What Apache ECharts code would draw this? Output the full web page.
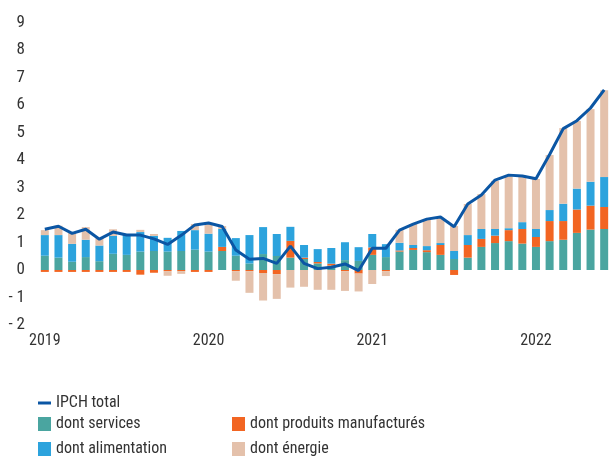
<!DOCTYPE html>
<html>
<head>
<meta charset="utf-8">
<script src="https://cdn.jsdelivr.net/npm/echarts@6/dist/echarts.min.js"></script>
<style>html,body{margin:0;padding:0;background:#fff}#c{width:611px;height:456px}</style>
</head>
<body>
<div id="c"></div>
<script>
const months = [];
for (let y = 2019; y <= 2022; y++) for (let m = 1; m <= 12; m++) { if (y === 2022 && m > 6) break; months.push(y + '-' + String(m).padStart(2, '0')); }

const ipchTotal = [1.48,1.59,1.33,1.48,1.12,1.38,1.27,1.27,1.13,0.93,1.26,1.64,1.71,1.58,0.73,0.39,0.42,0.24,0.87,0.24,0.05,0.10,0.22,-0.02,0.79,0.79,1.45,1.67,1.85,1.93,1.57,2.40,2.73,3.27,3.45,3.42,3.32,4.20,5.14,5.43,5.89,6.55];
const services = [0.52,0.45,0.30,0.47,0.32,0.59,0.55,0.67,0.69,0.67,0.69,0.74,0.67,0.69,0.52,0.24,0.58,0.51,0.45,0.40,0.24,0.16,0.36,0.33,0.55,0.47,0.67,0.73,0.65,0.55,0.40,0.45,0.84,0.98,1.05,0.96,0.84,1.05,1.10,1.35,1.47,1.49];
const manufactures = [-0.07,-0.07,-0.07,-0.07,-0.07,-0.07,-0.07,-0.17,-0.10,-0.04,-0.04,-0.07,-0.07,0.15,-0.04,-0.04,-0.11,-0.15,0.61,0.05,0.05,0.07,-0.04,-0.13,0.27,-0.04,0.04,0.07,0.07,0.36,-0.18,0.46,0.29,0.27,0.40,0.53,0.36,0.73,0.68,0.85,0.87,0.80];
const alimentation = [0.75,0.82,0.65,0.63,0.57,0.65,0.73,0.71,0.55,0.50,0.73,0.71,0.65,0.65,0.64,1.03,0.98,0.80,0.51,0.46,0.47,0.57,0.65,0.50,0.49,0.47,0.28,0.11,0.15,0.07,0.29,0.36,0.36,0.24,0.07,0.25,0.29,0.40,0.63,0.76,0.87,1.09];
const energie = [0.18,0.34,0.42,0.46,0.27,0.24,0.02,0.08,0.07,-0.17,-0.10,0.22,0.38,0.11,-0.35,-0.79,-1.00,-0.90,-0.64,-0.61,-0.72,-0.72,-0.72,-0.65,-0.51,-0.18,0.47,0.76,0.95,0.91,0.91,1.13,1.27,1.75,1.89,1.65,1.82,2.00,2.75,2.46,2.64,3.16];
const yTicks = { min: -2, max: 9, interval: 1 };

const FONT = "'Liberation Sans Narrow','Roboto Condensed','DejaVu Sans Condensed',sans-serif";
const TXT = '#333';
const chart = echarts.init(document.getElementById('c'));
const barBase = { type: 'bar', stack: 'tot', barWidth: 8 };
const legText = { color: TXT, fontSize: 16, fontFamily: FONT, lineHeight: 14 };
chart.setOption({
  animation: false,
  textStyle: { fontFamily: FONT },
  grid: { left: 38, top: 22.5, width: 575.4, height: 302.5 },
  xAxis: {
    type: 'category', data: months,
    axisLine: { show: false, onZero: false }, axisTick: { show: false },
    axisLabel: { interval: 11, formatter: v => v.slice(0, 4), color: TXT, fontSize: 16, fontFamily: FONT, margin: 8 }
  },
  yAxis: {
    type: 'value', min: yTicks.min, max: yTicks.max, interval: yTicks.interval,
    splitLine: { show: false }, axisLine: { show: false }, axisTick: { show: false },
    axisLabel: { color: TXT, fontSize: 17, fontFamily: FONT, margin: 13, formatter: v => v < 0 ? '- ' + (-v) : String(v) }
  },
  legend: [
    { data: ['IPCH total'], left: 38, top: 395, itemWidth: 13, itemHeight: 3, icon: 'rect', padding: 0,
      textStyle: legText },
    { data: ['dont services', 'dont alimentation'], orient: 'vertical', left: 38, top: 416, height: 60, padding: 0,
      itemGap: 9, itemWidth: 13, itemHeight: 14, icon: 'rect', textStyle: legText },
    { data: ['dont produits manufacturés', 'dont énergie'], orient: 'vertical', left: 232, top: 416, height: 60, padding: 0,
      itemGap: 9, itemWidth: 13, itemHeight: 14, icon: 'rect', textStyle: legText }
  ],
  series: [
    Object.assign({ name: 'dont services', data: services, itemStyle: { color: '#4aa5a0' } }, barBase),
    Object.assign({ name: 'dont produits manufacturés', data: manufactures, itemStyle: { color: '#f26522' } }, barBase),
    Object.assign({ name: 'dont alimentation', data: alimentation, itemStyle: { color: '#2ca3dd' } }, barBase),
    Object.assign({ name: 'dont énergie', data: energie, itemStyle: { color: '#e4c1ab' } }, barBase),
    { name: 'IPCH total', type: 'line', data: ipchTotal, showSymbol: false, symbol: 'none', z: 5,
      lineStyle: { color: '#0b56a4', width: 3 }, itemStyle: { color: '#0b56a4' } }
  ]
});
</script>
</body>
</html>
